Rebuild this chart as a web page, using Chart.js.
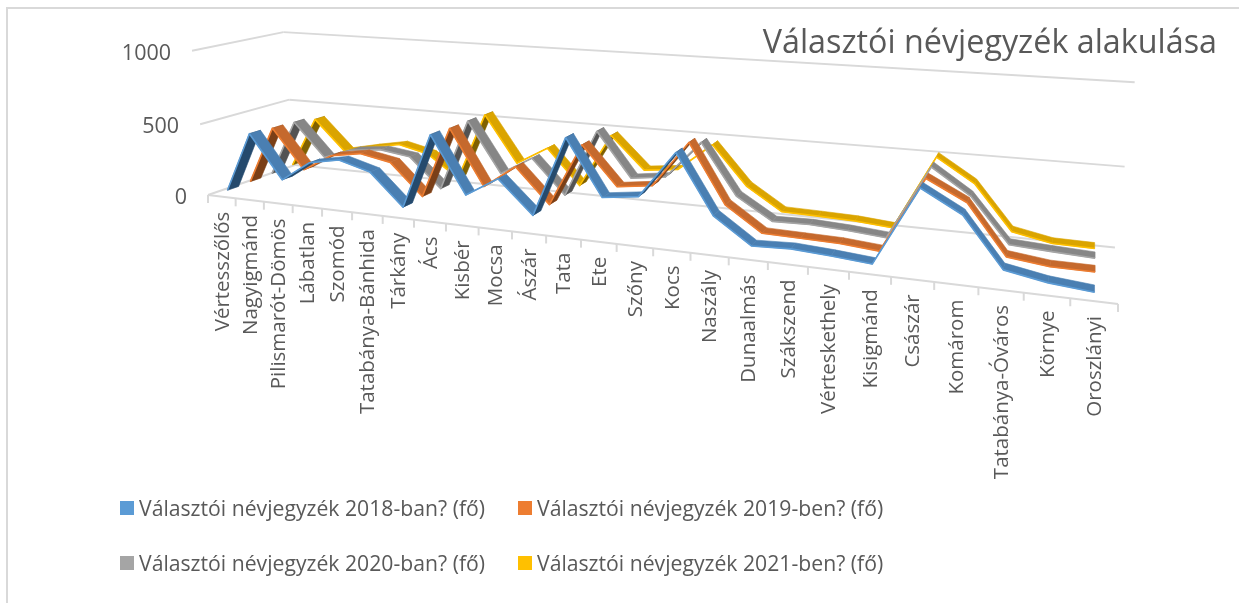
<!DOCTYPE html>
<html lang="hu">
<head>
<meta charset="utf-8">
<style>html,body{margin:0;padding:0;background:#fff}canvas{display:block}</style>
<script src="https://cdn.jsdelivr.net/npm/chart.js@4"></script>
</head>
<body>
<canvas id="c" width="1239" height="603"></canvas>
<script>
const categories = ["Vértesszőlős","Nagyigmánd","Pilismarót-Dömös","Lábatlan","Szomód","Tatabánya-Bánhida","Tárkány","Ács","Kisbér","Mocsa","Ászár","Tata","Ete","Szőny","Kocs","Naszály","Dunaalmás","Szákszend","Vérteskethely","Kisigmánd","Császár","Komárom","Tatabánya-Óváros","Környe","Oroszlányi"];
const values2018 = [30,450,150,290,330,270,55,560,185,315,100,620,265,295,590,225,65,75,60,40,515,385,95,50,27];
const values2019 = [35,440,165,285,320,280,65,550,180,335,105,520,270,300,595,225,70,65,60,40,505,385,90,60,58];
const values2020 = [40,435,200,270,295,265,60,550,210,335,105,555,265,295,540,215,75,80,68,48,510,355,85,70,58];
const values2021 = [50,410,195,240,280,230,75,545,225,350,110,475,260,285,470,215,70,65,58,38,510,365,90,42,38];
const seriesNames = ["Választói névjegyzék 2018-ban? (fő)","Választói névjegyzék 2019-ben? (fő)","Választói névjegyzék 2020-ban? (fő)","Választói névjegyzék 2021-ben? (fő)"];
const edgeColors = ["#5b9bd5","#ed7d31","#a5a5a5","#ffc000"];
const faceColors = ["#4a7fb2","#c5692d","#868686","#daa400"];
const underColors = ["#254a6d","#7a3f17","#535353","#7f6000"];
const titleText = "Választói névjegyzék alakulása";
const yTicks = [0,500,1000];

const FONT = '"Open Sans"';
const TEXT = "#595959", GRID = "#d9d9d9";

// 3D perspective of the Excel chart box: u along categories, h up the value axis, d into the depth axis
function project(u, h, d) {
  const w = 1 - 0.2476*u + 0.1089*d - 0.035*h;
  const nx = 208 + 633.2*u + 119.1*d - 22.7*h;
  const ny = 195 + 33.7*u - 12*d - 3.5*u*d - 146*h - 2.5*d*h + 3.3*u*h;
  return {x: nx/w, y: ny/w};
}
const depthOf = i => (i + 0.5)/4;
const HALF = 0.06;

const perspective = {
  id: "perspective",
  afterDatasetsUpdate(chart) {
    const a = chart.chartArea;
    chart.data.datasets.forEach((ds, i) => {
      const meta = chart.getDatasetMeta(i);
      meta.data.forEach(pt => {
        const u = (pt.x - a.left)/(a.right - a.left);
        const h = (a.bottom - pt.y)/(a.bottom - a.top);
        const front = project(u, h, depthOf(i) - HALF);
        const back = project(u, h, depthOf(i) + HALF);
        pt.x = front.x; pt.y = front.y; pt.$back = back;
      });
    });
  },
  beforeDatasetsDraw(chart) {
    const c = chart.ctx, ys = chart.scales.y, a = chart.chartArea;
    const hOf = v => (a.bottom - ys.getPixelForValue(v))/(a.bottom - a.top);
    const line = (p, q) => { c.beginPath(); c.moveTo(p.x, p.y); c.lineTo(q.x, q.y); c.stroke(); };
    c.save();
    c.strokeStyle = GRID; c.lineWidth = 2;
    c.strokeRect(7, 8, 1260, 620);
    yTicks.forEach(v => {
      const h = hOf(v);
      line(project(0,h,0), project(0,h,1));
      line(project(0,h,1), project(1,h,1));
    });
    line(project(0,0,0), project(1,0,0));
    for (let i = 0; i <= categories.length; i++) {
      const p = project(i/categories.length, 0, 0);
      line(p, {x: p.x, y: p.y + 8});
    }
    c.restore();
  },
  beforeDatasetDraw(chart, args) {
    const c = chart.ctx, pts = args.meta.data, i = args.index;
    c.save();
    for (let k = 0; k < pts.length - 1; k++) {
      const p = pts[k], q = pts[k+1], pb = p.$back, qb = q.$back;
      const cross = (q.x-p.x)*(pb.y-p.y) - (q.y-p.y)*(pb.x-p.x);
      const col = cross < 0 ? faceColors[i] : underColors[i];
      c.fillStyle = col; c.strokeStyle = col; c.lineWidth = 0.6; c.lineJoin = "round";
      c.beginPath();
      c.moveTo(p.x,p.y); c.lineTo(q.x,q.y); c.lineTo(qb.x,qb.y); c.lineTo(pb.x,pb.y); c.closePath();
      c.fill(); c.stroke();
    }
    c.restore();
  },
  afterDraw(chart) {
    const c = chart.ctx, xs = chart.scales.x, ys = chart.scales.y, a = chart.chartArea;
    const hOf = v => (a.bottom - ys.getPixelForValue(v))/(a.bottom - a.top);
    c.save();
    c.fillStyle = TEXT;
    // title
    c.font = "32.3px " + FONT; c.textAlign = "right"; c.textBaseline = "middle";
    c.fillText(titleText, 1217, 44);
    // value axis
    c.font = "21.5px " + FONT;
    yTicks.forEach(v => {
      const p = project(0, hOf(v), 0);
      c.fillText(String(v), p.x - 21, p.y + 3);
    });
    // category axis
    c.font = "20.5px " + FONT;
    categories.forEach((name, i) => {
      const u = (xs.getPixelForValue(i) - a.left)/(a.right - a.left);
      const p = project(u, 0, 0);
      c.save();
      c.translate(p.x + 1, p.y + 15);
      c.rotate(-Math.PI/2);
      c.textAlign = "right"; c.textBaseline = "middle";
      c.fillText(name, 0, 0);
      c.restore();
    });
    // legend
    const lx = [120, 518], ly = [508, 563];
    c.font = "21.2px " + FONT; c.textAlign = "left"; c.textBaseline = "middle";
    seriesNames.forEach((name, i) => {
      const x = lx[i%2], y = ly[i>>1];
      c.fillStyle = edgeColors[i];
      c.fillRect(x, y-7, 14, 14);
      c.fillStyle = TEXT;
      c.fillText(name, x + 19, y + 1.5);
    });
    c.restore();
  }
};

new Chart(document.getElementById("c"), {
  type: "line",
  data: {
    labels: categories,
    datasets: [values2018, values2019, values2020, values2021].map((vals, i) => ({
      label: seriesNames[i], data: vals,
      borderColor: edgeColors[i], borderWidth: 1.6, pointRadius: 0, tension: 0,
      fill: false, clip: false, borderJoinStyle: "round"
    }))
  },
  options: {
    responsive: false, animation: false, events: [],
    layout: {padding: 0},
    scales: {
      x: {type: "category", offset: true, display: false},
      y: {type: "linear", min: 0, max: 1000, display: false}
    },
    plugins: {legend: {display: false}, title: {display: false}, tooltip: {enabled: false}}
  },
  plugins: [perspective]
});
</script>
</body>
</html>
